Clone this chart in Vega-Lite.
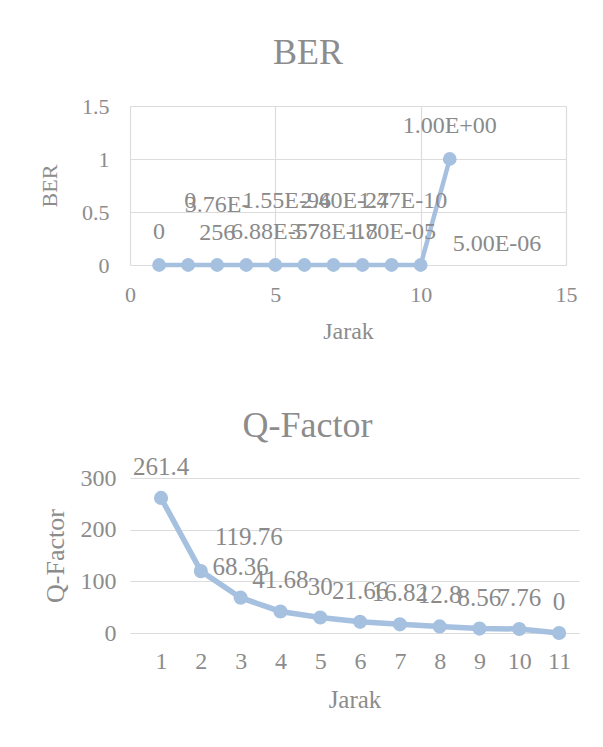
{
  "$schema": "https://vega.github.io/schema/vega-lite/v6.json",
  "background": "white",
  "padding": {"left": 38, "top": 35, "right": 5, "bottom": 5},
  "spacing": 64,
  "config": {
    "font": "Liberation Serif",
    "view": {"stroke": null},
    "axis": {
      "labelColor": "#8c8c8c",
      "titleColor": "#8c8c8c",
      "labelFont": "Liberation Serif",
      "titleFont": "Liberation Serif",
      "titleFontWeight": "normal",
      "gridColor": "#dcdcdc",
      "gridWidth": 1.2,
      "domain": false,
      "ticks": false,
      "labelFlush": false
    },
    "title": {"color": "#8c8c8c", "font": "Liberation Serif", "fontWeight": "normal", "fontSize": 36}
  },
  "vconcat": [
    {
      "width": 436,
      "height": 159,
      "title": {"text": "BER", "dx": -40, "offset": 23},
      "data": {
        "values": [
          {"Jarak": 1, "BER": 0, "label": "0"},
          {"Jarak": 2, "BER": 0, "label": "0"},
          {"Jarak": 3, "BER": 3.76e-256, "label": "3.76E-\n256"},
          {"Jarak": 4, "BER": 1.55e-96, "label": "1.55E-96"},
          {"Jarak": 5, "BER": 6.88e-57, "label": "6.88E-57"},
          {"Jarak": 6, "BER": 2.40e-27, "label": "2.40E-27"},
          {"Jarak": 7, "BER": 3.78e-18, "label": "3.78E-18"},
          {"Jarak": 8, "BER": 1.47e-10, "label": "1.47E-10"},
          {"Jarak": 9, "BER": 1.70e-05, "label": "1.70E-05"},
          {"Jarak": 10, "BER": 5.00e-06, "label": "5.00E-06"},
          {"Jarak": 11, "BER": 1, "label": "1.00E+00"}
        ]
      },
      "encoding": {
        "x": {
          "field": "Jarak", "type": "quantitative",
          "scale": {"domain": [0, 15], "nice": false},
          "axis": {"values": [0, 5, 10, 15], "title": "Jarak", "labelFontSize": 22, "titleFontSize": 24, "labelPadding": 19, "titlePadding": 14, "grid": true}
        },
        "y": {
          "field": "BER", "type": "quantitative",
          "scale": {"domain": [0, 1.5], "nice": false},
          "axis": {"values": [0, 0.5, 1, 1.5], "format": "~g", "title": "BER", "labelFontSize": 22, "titleFontSize": 22, "labelPadding": 21, "titlePadding": 20, "grid": true}
        }
      },
      "layer": [
        {"mark": {"type": "line", "color": "#a6c0e0", "strokeWidth": 4.5}},
        {"mark": {"type": "point", "filled": true, "color": "#a6c0e0", "opacity": 1, "size": 190}},
        {
          "transform": [{"filter": "datum.Jarak % 2 == 1 && datum.Jarak != 3"}],
          "mark": {"type": "text", "align": "center", "baseline": "bottom", "dy": -21, "fontSize": 24, "color": "#8a8a8a"},
          "encoding": {"text": {"field": "label", "type": "nominal"}}
        },
        {
          "transform": [{"filter": "datum.Jarak == 3"}],
          "mark": {"type": "text", "align": "center", "baseline": "bottom", "dy": -48, "fontSize": 24, "color": "#8a8a8a", "lineBreak": "\n", "lineHeight": 28},
          "encoding": {"text": {"field": "label", "type": "nominal"}}
        },
        {
          "transform": [{"filter": "datum.Jarak % 2 == 0 && datum.Jarak < 10"}],
          "mark": {"type": "text", "align": "left", "baseline": "bottom", "dx": -4, "dy": -52, "fontSize": 24, "color": "#8a8a8a"},
          "encoding": {"text": {"field": "label", "type": "nominal"}}
        },
        {
          "transform": [{"filter": "datum.Jarak == 10"}],
          "mark": {"type": "text", "align": "left", "baseline": "bottom", "dx": 32, "dy": -9, "fontSize": 24, "color": "#8a8a8a"},
          "encoding": {"text": {"field": "label", "type": "nominal"}}
        }
      ]
    },
    {
      "width": 449,
      "height": 155,
      "title": {"text": "Q-Factor", "dx": -47, "offset": 10},
      "data": {
        "values": [
          {"Jarak": 1, "Q": 261.4},
          {"Jarak": 2, "Q": 119.76},
          {"Jarak": 3, "Q": 68.36},
          {"Jarak": 4, "Q": 41.68},
          {"Jarak": 5, "Q": 30},
          {"Jarak": 6, "Q": 21.66},
          {"Jarak": 7, "Q": 16.82},
          {"Jarak": 8, "Q": 12.8},
          {"Jarak": 9, "Q": 8.56},
          {"Jarak": 10, "Q": 7.76},
          {"Jarak": 11, "Q": 0}
        ]
      },
      "encoding": {
        "x": {
          "field": "Jarak", "type": "quantitative",
          "scale": {"domain": [0.22, 11.5], "nice": false, "zero": false},
          "axis": {"values": [1, 2, 3, 4, 5, 6, 7, 8, 9, 10, 11], "format": "d", "title": "Jarak", "labelFontSize": 24, "titleFontSize": 25, "labelPadding": 16, "titlePadding": 14, "grid": false}
        },
        "y": {
          "field": "Q", "type": "quantitative",
          "scale": {"domain": [0, 300], "nice": false},
          "axis": {"values": [0, 100, 200, 300], "title": "Q-Factor", "labelFontSize": 24, "titleFontSize": 26, "labelPadding": 14, "titlePadding": 12, "grid": true}
        }
      },
      "layer": [
        {"mark": {"type": "line", "color": "#a6c0e0", "strokeWidth": 5.5}},
        {"mark": {"type": "point", "filled": true, "color": "#a6c0e0", "opacity": 1, "size": 200}},
        {
          "transform": [{"filter": "datum.Jarak != 2"}],
          "mark": {"type": "text", "align": "center", "baseline": "middle", "dy": -31, "fontSize": 25, "color": "#8a8a8a"},
          "encoding": {"text": {"field": "Q", "type": "nominal"}}
        },
        {
          "transform": [{"filter": "datum.Jarak == 2"}],
          "mark": {"type": "text", "align": "center", "baseline": "middle", "dx": 48, "dy": -34, "fontSize": 25, "color": "#8a8a8a"},
          "encoding": {"text": {"field": "Q", "type": "nominal"}}
        }
      ]
    }
  ]
}
